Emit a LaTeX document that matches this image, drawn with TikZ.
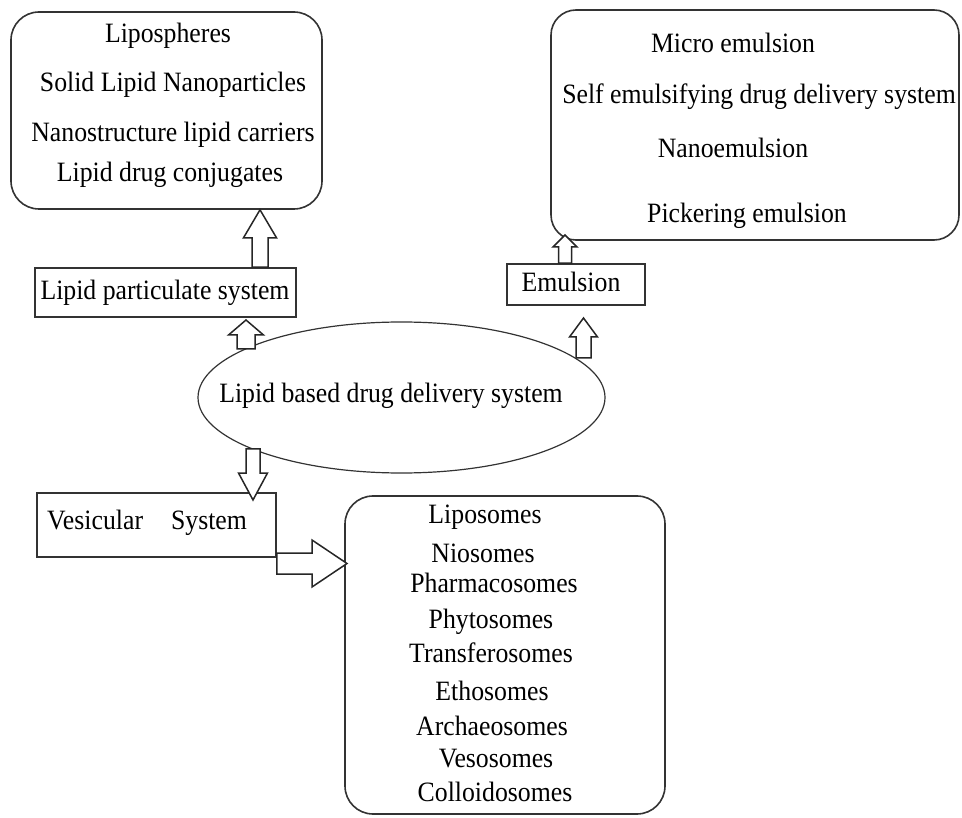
\documentclass[tikz,border=0pt]{standalone}
\usepackage{fontspec}
\setmainfont{Liberation Serif}[FakeStretch=0.92]
\usetikzlibrary{shapes.geometric, calc}
\tikzset{
  %% Rounded list box
  rbox/.style={rectangle, rounded corners=#1, draw=black!80,
               line width=1.6pt, inner sep=0pt},
  rbox/.default=28pt,
  %% Plain label box
  sbox/.style={rectangle, draw=black!80, line width=1.6pt, inner sep=0pt},
  %% One line of text
  entry/.style={anchor=base, inner sep=0pt, font=\fontsize{28}{30}\selectfont},
  %% Hollow block arrow
  hollow/.style={draw=black!85, line width=1.5pt, fill=white, line join=miter},
}
%% block arrow: tail, tip, shaft half width, head half width, head length
\newcommand{\blockarrow}[5]{%
  \coordinate (ba-h) at ($(#2)!#5!(#1)$);
  \draw[hollow] ($(#1)!#3!90:(#2)$) -- ($(ba-h)!#3!90:(#2)$)
    -- ($(ba-h)!#4!90:(#2)$) -- (#2) -- ($(ba-h)!#4!-90:(#2)$)
    -- ($(ba-h)!#3!-90:(#2)$) -- ($(#1)!#3!-90:(#2)$) -- cycle;
}

\begin{document}
\begin{tikzpicture}[x=1pt, y=-1pt]
  \useasboundingbox (0,0) rectangle (962,818);

  %% Boxes
  \node[rbox, minimum width=311pt, minimum height=197pt] (tl) at (166.5,110.5) {};
  \node[rbox=25pt, minimum width=408pt, minimum height=230pt] (tr) at (755,125) {};
  \node[sbox, minimum width=261pt, minimum height=49pt] (lps) at (165.5,292.5) {};
  \node[sbox, minimum width=138pt, minimum height=41pt] (emu) at (576,284.5) {};
  \node[ellipse, draw=black!80, line width=1.2pt, inner sep=0pt,
        minimum width=407pt, minimum height=151pt] (ell) at (401.5,397.5) {};
  \node[sbox, minimum width=239pt, minimum height=64pt] (ves) at (156.5,525) {};
  \node[rbox, minimum width=320pt, minimum height=318pt] (vlist) at (505,655) {};

  %% Texts
  \node[entry] (lp1) at (168,43)  {Lipospheres};
  \node[entry] (lp2) at (173,92)  {Solid Lipid Nanoparticles};
  \node[entry] (lp3) at (173,142) {Nanostructure lipid carriers};
  \node[entry] (lp4) at (170,182) {Lipid drug conjugates};

  \node[entry] (em1) at (733,53)  {Micro emulsion};
  \node[entry] (em2) at (759,104) {Self emulsifying drug delivery system};
  \node[entry] (em3) at (733,158) {Nanoemulsion};
  \node[entry] (em4) at (747,223) {Pickering emulsion};

  \node[entry] (lpst) at (165,300) {Lipid particulate system};
  \node[entry] (emut) at (571,292) {Emulsion};
  \node[entry] (ellt) at (391,403) {Lipid based drug delivery system};
  \node[entry, anchor=base west] (vest) at (47,529) {Vesicular\hspace{1em}System};

  \foreach \t/\x/\y [count=\i] in {Liposomes/485/523, Niosomes/483/562,
      Pharmacosomes/494/592, Phytosomes/491/628, Transferosomes/491/662,
      Ethosomes/492/700, Archaeosomes/492/735, Vesosomes/496/767,
      Colloidosomes/495/801}
    \node[entry] (vs\i) at (\x,\y) {\t};

  %% Arrow ends
  \coordinate (a1s) at (260,0 |- lps.north);
  \coordinate (a1t) at (260,0 |- tl.south);
  \coordinate (a2s) at (246,349);
  \coordinate (a2t) at (246,320);
  \coordinate (a3s) at (565,0 |- emu.north);
  \coordinate (a3t) at (565,235);
  \coordinate (a4s) at (583.5,358);
  \coordinate (a4t) at (583.5,318);
  \coordinate (a5s) at (253,449);
  \coordinate (a5t) at (253,500);
  \coordinate (a6s) at (ves.east |- 0,563.5);
  \coordinate (a6t) at (347,563.5);

  %% Arrows
  \blockarrow{a1s}{a1t}{8pt}{16.5pt}{28pt}
  \blockarrow{a2s}{a2t}{9pt}{17.5pt}{15pt}
  \blockarrow{a3s}{a3t}{6.5pt}{12pt}{12pt}
  \blockarrow{a4s}{a4t}{7.5pt}{14pt}{19pt}
  \blockarrow{a5s}{a5t}{7pt}{14.5pt}{27pt}
  \blockarrow{a6s}{a6t}{10.5pt}{23.5pt}{35pt}

\end{tikzpicture}
\end{document}
